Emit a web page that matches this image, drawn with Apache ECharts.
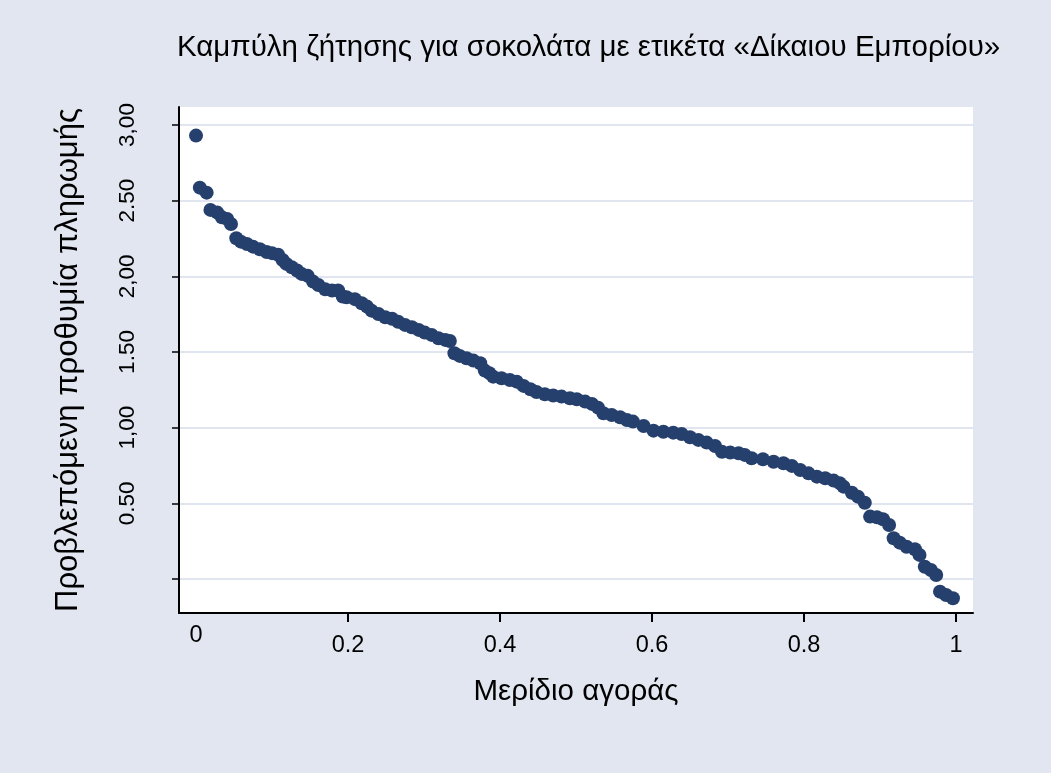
<!DOCTYPE html>
<html>
<head>
<meta charset="utf-8">
<script src="https://cdn.jsdelivr.net/npm/echarts@6/dist/echarts.min.js"></script>
<style>
html,body{margin:0;padding:0;background:#e2e6f0;}
#chart{width:1051px;height:773px;}
</style>
</head>
<body>
<div id="chart"></div>
<script>
// Market share (x)
const share = [
  0.000, 0.005, 0.014, 0.019, 0.028, 0.034, 0.041, 0.046, 0.053, 0.059,
  0.067, 0.075, 0.084, 0.093, 0.100, 0.108, 0.114, 0.119, 0.126, 0.133,
  0.139, 0.147, 0.154, 0.161, 0.170, 0.179, 0.187, 0.193, 0.198, 0.209,
  0.218, 0.225, 0.231, 0.240, 0.249, 0.258, 0.266, 0.275, 0.284, 0.293,
  0.301, 0.310, 0.319, 0.328, 0.334, 0.340, 0.347, 0.356, 0.365, 0.374,
  0.380, 0.386, 0.391, 0.402, 0.413, 0.422, 0.431, 0.440, 0.448, 0.459,
  0.470, 0.481, 0.492, 0.501, 0.512, 0.521, 0.529, 0.536, 0.547, 0.558,
  0.567, 0.575, 0.589, 0.602, 0.615, 0.628, 0.639, 0.650, 0.661, 0.672,
  0.683, 0.692, 0.703, 0.714, 0.722, 0.731, 0.746, 0.760, 0.773, 0.784,
  0.795, 0.806, 0.817, 0.828, 0.839, 0.847, 0.852, 0.863, 0.871, 0.880,
  0.887, 0.896, 0.904, 0.912, 0.918, 0.926, 0.935, 0.946, 0.952, 0.959,
  0.967, 0.974, 0.979, 0.987, 0.996
];
// Predicted willingness to pay (y)
const wtp = [
  2.93, 2.586, 2.553, 2.439, 2.421, 2.39, 2.379, 2.346, 2.252, 2.229,
  2.214, 2.196, 2.179, 2.161, 2.153, 2.143, 2.108, 2.082, 2.06, 2.038,
  2.016, 2.003, 1.965, 1.943, 1.915, 1.906, 1.906, 1.866, 1.862, 1.849,
  1.822, 1.80, 1.773, 1.751, 1.730, 1.720, 1.70, 1.679, 1.663, 1.646,
  1.628, 1.613, 1.591, 1.58, 1.573, 1.492, 1.474, 1.459, 1.443, 1.426,
  1.377, 1.36, 1.337, 1.326, 1.315, 1.304, 1.276, 1.254, 1.236, 1.221,
  1.212, 1.205, 1.194, 1.188, 1.172, 1.157, 1.132, 1.095, 1.084, 1.069,
  1.05, 1.04, 1.011, 0.980, 0.973, 0.967, 0.958, 0.936, 0.919, 0.901,
  0.879, 0.841, 0.835, 0.831, 0.820, 0.798, 0.791, 0.775, 0.765, 0.747,
  0.72, 0.698, 0.676, 0.666, 0.650, 0.633, 0.610, 0.570, 0.544, 0.504,
  0.412, 0.408, 0.395, 0.357, 0.269, 0.240, 0.213, 0.196, 0.159, 0.081,
  0.059, 0.026, -0.084, -0.106, -0.128
];
const yTickValues = [0, 0.5, 1, 1.5, 2, 2.5, 3];
const yTickLabels = ['', '0.50', '1,00', '1.50', '2,00', '2.50', '3,00'];
const xTickValues = [0.2, 0.4, 0.6, 0.8, 1];
const xTickLabels = ['0.2', '0.4', '0.6', '0.8', '1'];
const xZeroValue = [0];
const xZeroLabel = ['0'];

const titleText = 'Καμπύλη ζήτησης για σοκολάτα με ετικέτα «Δίκαιου Εμπορίου»';
const xName = 'Μερίδιο αγοράς';
const yName = 'Προβλεπόμενη προθυμία πληρωμής';

const FONT = '"Liberation Sans", Arial, sans-serif';
const points = share.map((s, i) => [s, wtp[i]]);

const chart = echarts.init(document.getElementById('chart'), null, {renderer: 'canvas'});
chart.setOption({
  backgroundColor: '#e2e6f0',
  animation: false,
  title: {
    text: titleText,
    left: 172,
    top: 28,
    textStyle: {fontFamily: FONT, fontSize: 29.5, fontWeight: 'normal', color: '#000'}
  },
  grid: {left: 179, right: 78, top: 107, bottom: 160, show: true, backgroundColor: '#ffffff', borderWidth: 0, containLabel: false},
  xAxis: [{
    type: 'value',
    min: -0.0224, max: 1.0224,
    position: 'bottom',
    name: xName, nameLocation: 'middle', nameGap: 64,
    nameTextStyle: {fontFamily: FONT, fontSize: 29.5, color: '#000'},
    axisLine: {show: true, onZero: false, lineStyle: {color: '#000', width: 2}},
    axisTick: {show: true, length: 9, customValues: xTickValues, lineStyle: {color: '#000', width: 2}},
    axisLabel: {show: true, customValues: xTickValues, margin: 21, fontFamily: FONT, fontSize: 23.5, color: '#000',
      formatter: v => { const i = xTickValues.findIndex(t => Math.abs(t - v) < 1e-9); return i >= 0 ? xTickLabels[i] : ''; }},
    splitLine: {show: false}
  }, {
    type: 'value',
    min: -0.0224, max: 1.0224,
    position: 'bottom',
    axisLine: {show: false, onZero: false},
    axisTick: {show: false},
    axisLabel: {show: true, customValues: xZeroValue, margin: 11, fontFamily: FONT, fontSize: 23.5, color: '#000',
      formatter: v => xZeroLabel[0]},
    splitLine: {show: false}
  }],
  yAxis: {
    type: 'value',
    min: -0.225, max: 3.119,
    name: yName, nameLocation: 'middle', nameGap: 95, nameRotate: 90,
    nameTextStyle: {fontFamily: FONT, fontSize: 31, color: '#000'},
    axisLine: {show: true, onZero: false, lineStyle: {color: '#000', width: 2}},
    axisTick: {show: true, length: 7, customValues: yTickValues, lineStyle: {color: '#000', width: 1.5}},
    axisLabel: {show: true, customValues: yTickValues, rotate: 90, margin: 40, fontFamily: FONT, fontSize: 22.5, color: '#000',
      formatter: v => { const i = yTickValues.findIndex(t => Math.abs(t - v) < 1e-9); return i >= 0 ? yTickLabels[i] : ''; }},
    splitLine: {show: true, lineStyle: {color: '#e1e5ef', width: 2}}
  },
  series: [{
    type: 'scatter',
    xAxisIndex: 0,
    data: points,
    symbol: 'circle',
    symbolSize: 14,
    itemStyle: {color: '#26406e', opacity: 1},
    clip: false
  }]
});
</script>
</body>
</html>
